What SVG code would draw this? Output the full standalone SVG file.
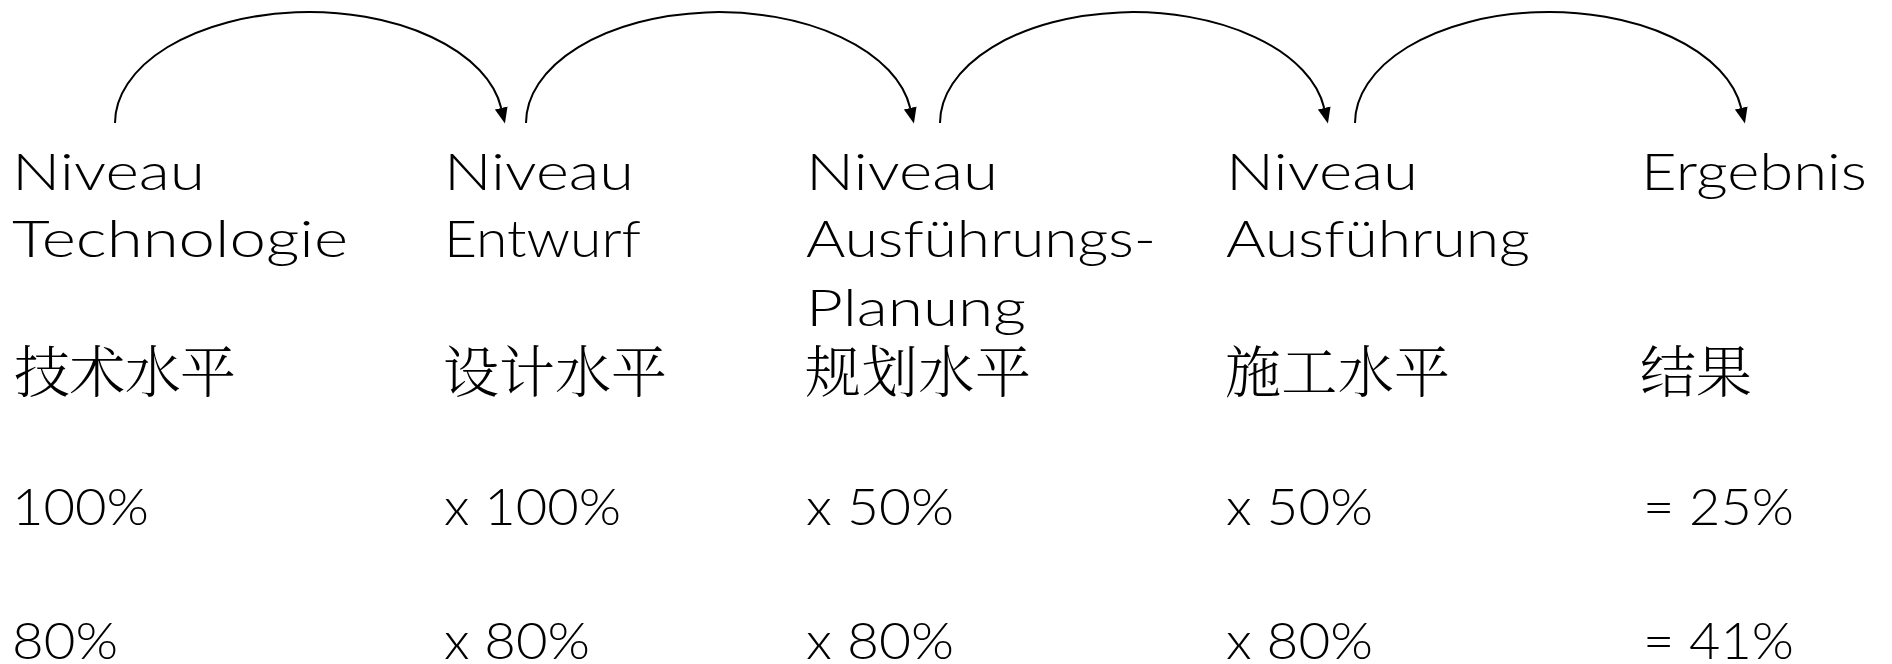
<svg xmlns="http://www.w3.org/2000/svg" width="1892" height="664" viewBox="0 0 1892 664">
<style>
.t{font-family:Lato,"Open Sans","Liberation Sans",sans-serif;font-weight:300;font-size:52px;fill:#000}
.c{font-family:"Noto Serif CJK SC","Noto Sans CJK SC",serif;font-weight:300;font-size:56px;fill:#000}
.arc{fill:none;stroke:#000;stroke-width:2}
</style>
<defs>
<marker id="ah" markerUnits="userSpaceOnUse" markerWidth="18" markerHeight="14" refX="0" refY="6.5" orient="auto">
<path d="M0,0 L16,6.5 L0,13 z" fill="#000"/>
</marker>
</defs>
<rect width="1892" height="664" fill="#fff"/>
<g id="connectors">
<path class="arc" d="M115,123 A194,111 0 0 1 501.2,108" marker-end="url(#ah)"/>
<path class="arc" d="M526,123 A193,111 0 0 1 910.2,108" marker-end="url(#ah)"/>
<path class="arc" d="M940,123 A193,111 0 0 1 1324.2,108" marker-end="url(#ah)"/>
<path class="arc" d="M1355,123 A194,111 0 0 1 1741.2,108" marker-end="url(#ah)"/>
</g>
<g id="node-technologie">
<text class="t" x="12" y="190" textLength="193" lengthAdjust="spacingAndGlyphs">Niveau</text>
<text class="t" x="12" y="257" textLength="336" lengthAdjust="spacingAndGlyphs">Technologie</text>
<text class="c" x="14" y="392" textLength="222" lengthAdjust="spacing">技术水平</text>
<text class="t" x="12" y="525" textLength="137" lengthAdjust="spacingAndGlyphs">100%</text>
<text class="t" x="12" y="659" textLength="106" lengthAdjust="spacingAndGlyphs">80%</text>
</g>
<g id="node-entwurf">
<text class="t" x="444" y="190" textLength="190" lengthAdjust="spacingAndGlyphs">Niveau</text>
<text class="t" x="444" y="257" textLength="197" lengthAdjust="spacingAndGlyphs">Entwurf</text>
<text class="c" x="443" y="392" textLength="224" lengthAdjust="spacing">设计水平</text>
<text class="t" x="444" y="525" textLength="177" lengthAdjust="spacingAndGlyphs">x 100%</text>
<text class="t" x="444" y="659" textLength="146" lengthAdjust="spacingAndGlyphs">x 80%</text>
</g>
<g id="node-ausfuehrungsplanung">
<text class="t" x="806" y="190" textLength="192" lengthAdjust="spacingAndGlyphs">Niveau</text>
<text class="t" x="806" y="257" textLength="350" lengthAdjust="spacingAndGlyphs">Ausführungs-</text>
<text class="t" x="806" y="326" textLength="220" lengthAdjust="spacingAndGlyphs">Planung</text>
<text class="c" x="805" y="392" textLength="226" lengthAdjust="spacing">规划水平</text>
<text class="t" x="806" y="525" textLength="148" lengthAdjust="spacingAndGlyphs">x 50%</text>
<text class="t" x="806" y="659" textLength="148" lengthAdjust="spacingAndGlyphs">x 80%</text>
</g>
<g id="node-ausfuehrung">
<text class="t" x="1226" y="190" textLength="192" lengthAdjust="spacingAndGlyphs">Niveau</text>
<text class="t" x="1226" y="257" textLength="304" lengthAdjust="spacingAndGlyphs">Ausführung</text>
<text class="c" x="1225" y="392" textLength="225" lengthAdjust="spacing">施工水平</text>
<text class="t" x="1226" y="525" textLength="147" lengthAdjust="spacingAndGlyphs">x 50%</text>
<text class="t" x="1226" y="659" textLength="147" lengthAdjust="spacingAndGlyphs">x 80%</text>
</g>
<g id="node-ergebnis">
<text class="t" x="1641" y="190" textLength="226" lengthAdjust="spacingAndGlyphs">Ergebnis</text>
<text class="c" x="1640" y="392" textLength="112" lengthAdjust="spacing">结果</text>
<text class="t" x="1643" y="525" textLength="151" lengthAdjust="spacingAndGlyphs">= 25%</text>
<text class="t" x="1643" y="659" textLength="151" lengthAdjust="spacingAndGlyphs">= 41%</text>
</g>
</svg>
